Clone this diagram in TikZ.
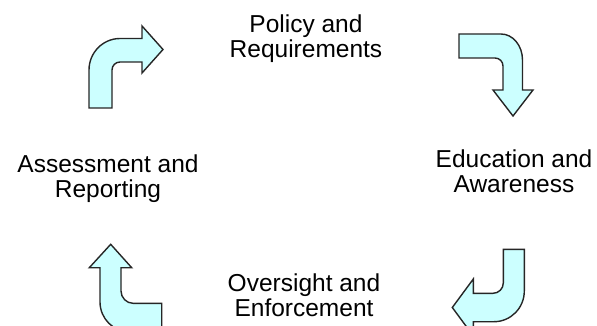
\documentclass[tikz,border=0pt]{standalone}
\usepackage{fontspec}
\setmainfont{Liberation Sans}
\definecolor{arrowfill}{HTML}{CCFFFF}

\begin{document}
\begin{tikzpicture}[x=1pt,y=-1pt,
  turn/.style={draw=black!85,fill=arrowfill,line width=1.4pt,line join=miter},
  stage/.style={align=center,inner sep=0pt,font=\fontsize{24.5}{25}\selectfont}]
\useasboundingbox (0,0) rectangle (597,326);
\clip (0,0) rectangle (597,326);
% the four stages
\node[stage] (policy) at (306,38.2) {Policy and\\Requirements};
\node[stage] (education) at (514,171.6) {Education and\\Awareness};
\node[stage] (oversight) at (304,295.6) {Oversight and\\Enforcement};
\node[stage] (assessment) at (108,178.2) {Assessment and\\Reporting};
% bent arrows between them
\draw[turn] (89,108) -- (112,108) -- (112,70) .. controls (112,65.6) and (115.6,62) .. (120,62) -- (142,62) -- (142,73) -- (163,49.5) -- (142,26) -- (142,38.5) -- (120,38.5) .. controls (102.9,38.5) and (89,52.6) .. (89,70) -- cycle;
\draw[turn] (459,34) -- (501,34) .. controls (512.9,34) and (522.5,45.6) .. (522.5,60) -- (522.5,90) -- (533,90) -- (513,116) -- (493,90) -- (503,90) -- (503,66) .. controls (503,61.6) and (499.4,58) .. (495,58) -- (459,58) -- cycle;
\draw[turn] (503.3,249.3) -- (524.3,249.3) -- (524.3,291) .. controls (524.3,308) and (510.7,321.7) .. (494,321.7) -- (473.3,321.7) -- (473.3,336) -- (452.3,307.5) -- (473.3,279) -- (473.3,293.3) -- (493,293.3) .. controls (498.7,293.3) and (503.3,288.7) .. (503.3,283) -- cycle;
\draw[turn] (110.7,244.3) -- (131.7,267.7) -- (121,267.7) -- (121,291) .. controls (121,297.6) and (126.4,303.3) .. (133,303.3) -- (161.7,303.3) -- (161.7,332) -- (130,332) .. controls (113.4,332) and (100,318.6) .. (100,302) -- (100,267.7) -- (89.3,267.7) -- cycle;
\end{tikzpicture}
\end{document}
